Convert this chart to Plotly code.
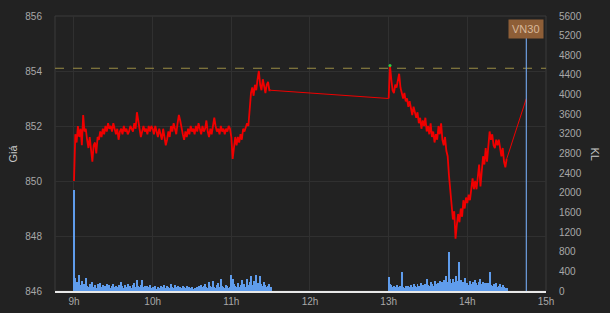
import plotly.graph_objects as go
from datetime import datetime, timedelta

# ---- data ----
morning_start = "2024-01-01 09:00"
afternoon_start = "2024-01-01 13:00"
close_time = "2024-01-01 14:45"
close_price = 853.0
ref_price = 854.1
marker_time = "2024-01-01 14:45"
marker_label = "VN30"

morning_price = [
    850.0, 851.7, 851.4, 852.0, 851.6, 851.9, 851.3, 852.4, 851.8, 851.9,
    851.5, 851.2, 851.6, 851.0, 850.7, 851.3, 851.4, 851.0, 851.6, 851.5,
    851.8, 851.6, 851.9, 851.7, 852.0, 851.8, 852.1, 851.9, 852.0, 851.8,
    852.1, 851.9, 851.7, 851.9, 851.5, 851.8, 851.9, 851.7, 852.0, 851.8,
    851.9, 851.7, 851.8, 852.0, 851.9, 851.8, 852.1, 851.9, 852.5, 852.2,
    851.9, 851.6, 851.8, 852.0, 851.8, 851.9, 851.7, 852.0, 851.8, 852.0,
    851.9, 851.7, 852.0, 851.8, 851.6, 851.9, 851.7, 851.5, 851.9, 851.6,
    851.3, 851.5, 851.8, 851.6, 852.0, 851.8, 852.1, 851.9, 851.7, 852.1,
    852.4, 852.2, 851.9, 851.7, 851.5, 851.8, 851.6, 851.9, 851.7, 852.0,
    851.8, 851.9, 851.7, 852.0, 851.8, 852.1, 851.9, 851.7, 852.0, 851.8,
    851.9, 852.2, 851.8, 851.6, 851.9, 851.7, 852.0, 852.3, 852.0, 851.8,
    851.9, 851.7, 852.0, 851.8, 851.9, 851.7, 851.9, 851.8, 852.0, 851.9,
    851.6, 850.8, 851.2, 851.6, 851.3, 851.6, 851.4, 851.7, 851.5, 851.9,
    851.8, 852.0, 852.1, 852.0, 852.6, 853.2, 853.4, 853.1, 853.5, 853.3,
    853.7, 854.0, 853.5, 853.3, 853.7, 853.4, 853.2, 853.5, 853.6, 853.3,
    853.3,
]

afternoon_price = [
    853.0, 854.2, 853.7, 853.3, 853.2, 853.5, 853.4, 853.7, 853.9, 853.4,
    853.2, 853.0, 853.2, 852.9, 853.0, 852.7, 852.9, 852.6, 852.4, 852.7,
    852.5, 852.3, 852.5, 852.1, 852.3, 851.9, 852.2, 852.0, 852.3, 851.8,
    852.0, 851.7, 852.1, 851.6, 851.8, 851.4, 851.7, 851.5, 852.0, 851.7,
    852.1, 851.5, 851.3, 851.6, 851.1, 850.9, 850.2, 849.6, 849.2, 848.6,
    848.9, 847.9, 848.4, 848.8, 848.5, 849.0, 848.7, 849.3, 849.0, 849.4,
    849.2, 849.5, 849.3, 849.8, 850.1, 849.7, 850.0, 849.7, 850.3, 850.6,
    849.8, 850.4, 850.9, 850.6, 851.2, 850.7, 851.4, 851.8, 851.5, 851.7,
    851.3, 851.2, 851.5, 851.3, 851.5, 851.1, 850.9, 851.2, 850.7, 850.5,
    850.8,
]

morning_vol = [
    2050, 270, 180, 150, 330, 120, 200, 90, 140, 260,
    110, 80, 150, 100, 180, 90, 120, 70, 140, 100,
    160, 90, 130, 80, 110, 150, 90, 120, 70, 100,
    140, 80, 110, 90, 130, 70, 180, 100, 60, 120,
    90, 150, 80, 110, 70, 130, 160, 90, 220, 100,
    80, 120, 220, 90, 110, 60, 100, 80, 130, 70,
    90, 60, 110, 50, 80, 70, 100, 60, 90, 130,
    70, 110, 80, 60, 140, 90, 70, 120, 80, 100,
    60, 90, 70, 110, 80, 60, 100, 70, 90, 60,
    80, 50, 70, 60, 90, 110, 70, 130, 80, 100,
    150, 90, 70, 180, 100, 80, 210, 90, 70, 120,
    160, 80, 240, 110, 90, 70, 130, 100, 60, 90,
    330, 250, 140, 100, 80, 160, 90, 130, 220, 110,
    150, 90, 240, 130, 180, 300, 120, 200, 140, 330,
    170, 120, 300, 140, 100, 180, 120, 90, 110, 150,
    80,
]

afternoon_vol = [
    280, 150, 120, 90, 110, 80, 130, 90, 70, 100,
    390, 90, 70, 110, 80, 100, 90, 120, 80, 140,
    100, 90, 150, 110, 80, 170, 120, 90, 140, 250,
    130, 100, 180, 140, 110, 200, 150, 120, 160, 210,
    130, 180, 220, 150, 310, 180, 800, 250, 160, 240,
    180, 300, 210, 160, 590, 220, 150, 190, 260, 140,
    170, 120, 210, 150, 190, 130, 230, 160, 120, 180,
    250, 140, 190, 160, 160, 120, 170, 390, 130, 100,
    150, 120, 170, 90, 110, 140, 80, 120, 90, 70,
    60,
]

hour_ticks = ["2024-01-01 09:00", "2024-01-01 10:00", "2024-01-01 11:00",
              "2024-01-01 12:00", "2024-01-01 13:00", "2024-01-01 14:00",
              "2024-01-01 15:00"]
hour_labels = ["9h", "10h", "11h", "12h", "13h", "14h", "15h"]
price_ticks = [846, 848, 850, 852, 854, 856]

# ---- build time axis (one point per minute in each session) ----
fmt = "%Y-%m-%d %H:%M"
def minutes_from(start, n):
    t0 = datetime.strptime(start, fmt)
    return [(t0 + timedelta(minutes=i)).strftime(fmt) for i in range(n)]

t_morning = minutes_from(morning_start, len(morning_price))
t_afternoon = minutes_from(afternoon_start, len(afternoon_price))
price_t = t_morning + t_afternoon + [close_time]
price_v = morning_price + afternoon_price + [close_price]
vol_t = t_morning + t_afternoon
vol_v = morning_vol + afternoon_vol

# thin connectors across gaps (lunch break, and last trade -> close)
conn_t = [t_morning[-1], t_afternoon[0], None, t_afternoon[-1], close_time]
conn_v = [morning_price[-1], afternoon_price[0], None, afternoon_price[-1], close_price]

imax = max(range(len(price_v)), key=lambda i: price_v[i])

font_family = "Liberation Sans, Arial, sans-serif"
tick_color = "#a8a8a8"
grid_color = "#303030"
red = "#f00000"

W, H = 610, 313
ML, MR, MT, MB = 55, 64, 16, 22
pw = W - ML - MR

fig = go.Figure()
fig.add_trace(go.Bar(x=vol_t, y=vol_v, yaxis="y", marker=dict(color="#5f9cec", line=dict(width=0)),
                     width=45000, hoverinfo="skip", showlegend=False))
fig.add_trace(go.Scatter(x=conn_t, y=conn_v, yaxis="y2", mode="lines",
                         line=dict(color=red, width=1), showlegend=False))
for tt, vv in ((t_morning, morning_price), (t_afternoon, afternoon_price)):
    fig.add_trace(go.Scatter(x=tt, y=vv, yaxis="y2", mode="lines",
                             line=dict(color=red, width=1.8), showlegend=False))
fig.add_trace(go.Scatter(x=[price_t[imax]], y=[price_v[imax]], yaxis="y2", mode="markers",
                         marker=dict(color="#2ecc40", size=3), showlegend=False))

fig.update_layout(
    width=W, height=H,
    margin=dict(l=ML, r=MR, t=MT, b=MB, autoexpand=False),
    paper_bgcolor="#222222", plot_bgcolor="#222222",
    font=dict(family=font_family, size=10, color=tick_color),
    bargap=0,
    xaxis=dict(
        type="date", automargin=False,
        range=["2024-01-01 08:45:31", "2024-01-01 15:00"],
        tickvals=hour_ticks, ticktext=hour_labels,
        showgrid=True, gridcolor=grid_color, gridwidth=1,
        showline=True, linecolor="#e8e8e8", linewidth=1.5,
        ticks="", zeroline=False,
        tickfont=dict(size=10, color=tick_color),
    ),
    yaxis=dict(
        side="right", range=[0, 5600], dtick=400, tick0=0, automargin=False,
        showgrid=False, zeroline=False, showline=False,
        tickfont=dict(size=10, color=tick_color), ticklabelstandoff=12,
    ),
    yaxis2=dict(
        overlaying="y", side="left", range=[846, 856], automargin=False,
        tickvals=price_ticks,
        showgrid=True, gridcolor=grid_color, gridwidth=1,
        zeroline=False, showline=False,
        tickfont=dict(size=10, color=tick_color), ticklabelstandoff=12,
    ),
    shapes=[
        dict(type="rect", xref="paper", yref="paper", x0=0, x1=1, y0=0, y1=1,
             line=dict(color="#3a3a3a", width=1), layer="below"),
        dict(type="line", xref="paper", yref="y2", x0=0, x1=1, y0=ref_price, y1=ref_price,
             line=dict(color="#9b8d45", width=1, dash="dash")),
        dict(type="line", xref="x", yref="paper", x0=marker_time, x1=marker_time, y0=0, y1=0.94,
             line=dict(color="#6e9fe0", width=1.2)),
    ],
    annotations=[
        dict(x=marker_time, xref="x", y=0.951, yref="paper", text=marker_label,
             xanchor="center", yanchor="middle",
             showarrow=False, bgcolor="#8e5e37", borderpad=3,
             font=dict(size=11, color="#d8b89a")),
        dict(x=(12 - ML) / pw, y=0.5, xref="paper", yref="paper", text="Giá",
             xanchor="center", yanchor="middle",
             showarrow=False, textangle=-90, font=dict(size=11, color="#c8c8c8")),
        dict(x=(595 - ML) / pw, y=0.5, xref="paper", yref="paper", text="KL",
             xanchor="center", yanchor="middle",
             showarrow=False, textangle=90, font=dict(size=11, color="#c8c8c8")),
    ],
)

fig.write_html("out.html")
